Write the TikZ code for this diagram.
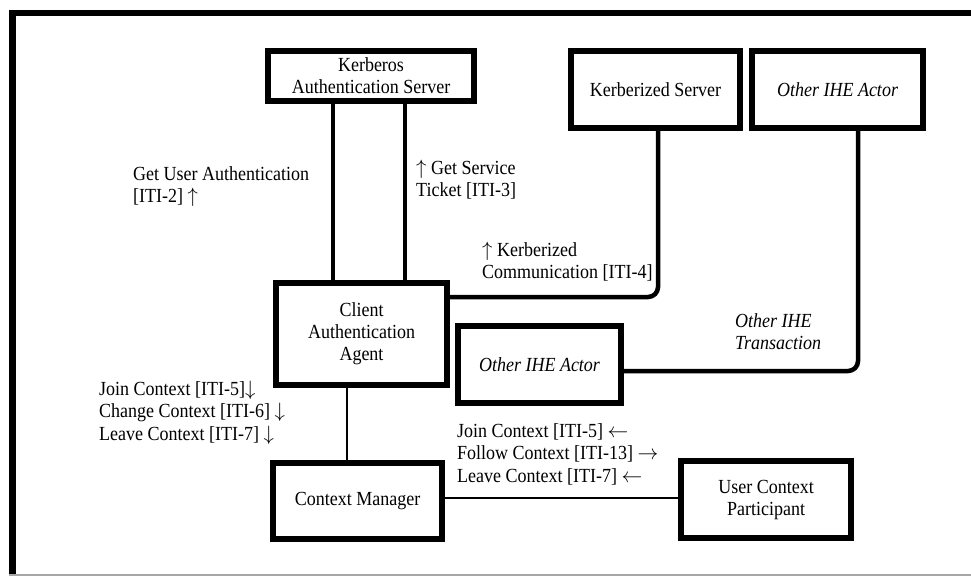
\documentclass[tikz,border=0pt]{standalone}
\usepackage{fontspec}
\setmainfont{Liberation Serif}[FakeStretch=0.9]
\newcommand{\upar}{$\uparrow$}
\newcommand{\dnar}{$\downarrow$}
\newcommand{\lfar}{$\leftarrow$}
\newcommand{\rtar}{$\rightarrow$}
\begin{document}
\begin{tikzpicture}[x=1pt,y=-1pt,
  actor/.style={draw, line width=6pt, fill=white, rectangle, inner sep=0pt,
    align=center, font=\fontsize{20}{22}\selectfont},
  conn/.style={line width=4.5pt},
  thinconn/.style={line width=2pt},
  lbl/.style={inner sep=0pt, align=left, anchor=north west,
    font=\fontsize{20}{22.5}\selectfont}]
\useasboundingbox (0,0) rectangle (971,576);

% frame
\draw[line width=6.5pt] (12.5,576) -- (12.5,13) -- (971,13);
\draw[gray!70, line width=1.5pt] (9,575.2) -- (971,575.2);

% actors
\node[actor, minimum width=206pt, minimum height=50pt] (kas) at (371,76)
  {Kerberos\\Authentication Server};
\node[actor, minimum width=169pt, minimum height=77pt] (ks) at (655.5,89.5)
  {Kerberized Server};
\node[actor, minimum width=171pt, minimum height=77pt] (oa1) at (837.5,89.5)
  {\itshape Other IHE Actor};
\node[actor, minimum width=171pt, minimum height=102pt] (caa) at (361.5,334)
  {Client\\Authentication\\Agent};
\node[actor, minimum width=163pt, minimum height=77pt] (oa2) at (539.5,364.5)
  {\itshape Other IHE Actor};
\node[actor, minimum width=169pt, minimum height=76pt] (cm) at (357.5,501)
  {Context Manager};
\node[actor, minimum width=170pt, minimum height=77pt] (ucp) at (766,499.5)
  {User Context\\Participant};

% transactions
\draw[conn] ([xshift=-38pt]kas.south) -- ([xshift=-38pt]kas.south |- caa.north);
\draw[conn] ([xshift=34pt]kas.south) -- ([xshift=34pt]kas.south |- caa.north);
\draw[conn, rounded corners=10pt] ([yshift=-17pt]caa.north east) -| ([xshift=2.5pt]ks.south);
\draw[conn, rounded corners=10pt] ([yshift=-6.5pt]oa2.east) -| ([xshift=20.5pt]oa1.south);
\draw[thinconn] ([xshift=-14.5pt]caa.south) -- ([xshift=-14.5pt]caa.south |- cm.north);
\draw[thinconn] ([yshift=3pt]cm.east) -- ([yshift=3pt]cm.east -| ucp.west);

% labels
\node[lbl] (lgua) at (133,166) {Get User Authentication\\{}[ITI-2] \smash{\upar}};
\node[lbl] (lgst) at (416,161) {\smash{\upar}\ Get Service\\Ticket [ITI-3]};
\node[lbl] (lkc) at (482,242) {\smash{\upar}\ Kerberized\\Communication [ITI-4]};
\node[lbl, font=\fontsize{20}{22}\selectfont\itshape] (loit) at (735,313) {Other IHE\\Transaction};
\node[lbl] (lctxl) at (99,381) {Join Context [ITI-5]\smash{\dnar}\\Change Context [ITI-6] \smash{\dnar}\\Leave Context [ITI-7] \smash{\dnar}};
\node[lbl] (lctxr) at (457,423) {Join Context [ITI-5] \lfar\\Follow Context [ITI-13] \rtar\\Leave Context [ITI-7] \lfar};
\end{tikzpicture}
\end{document}
